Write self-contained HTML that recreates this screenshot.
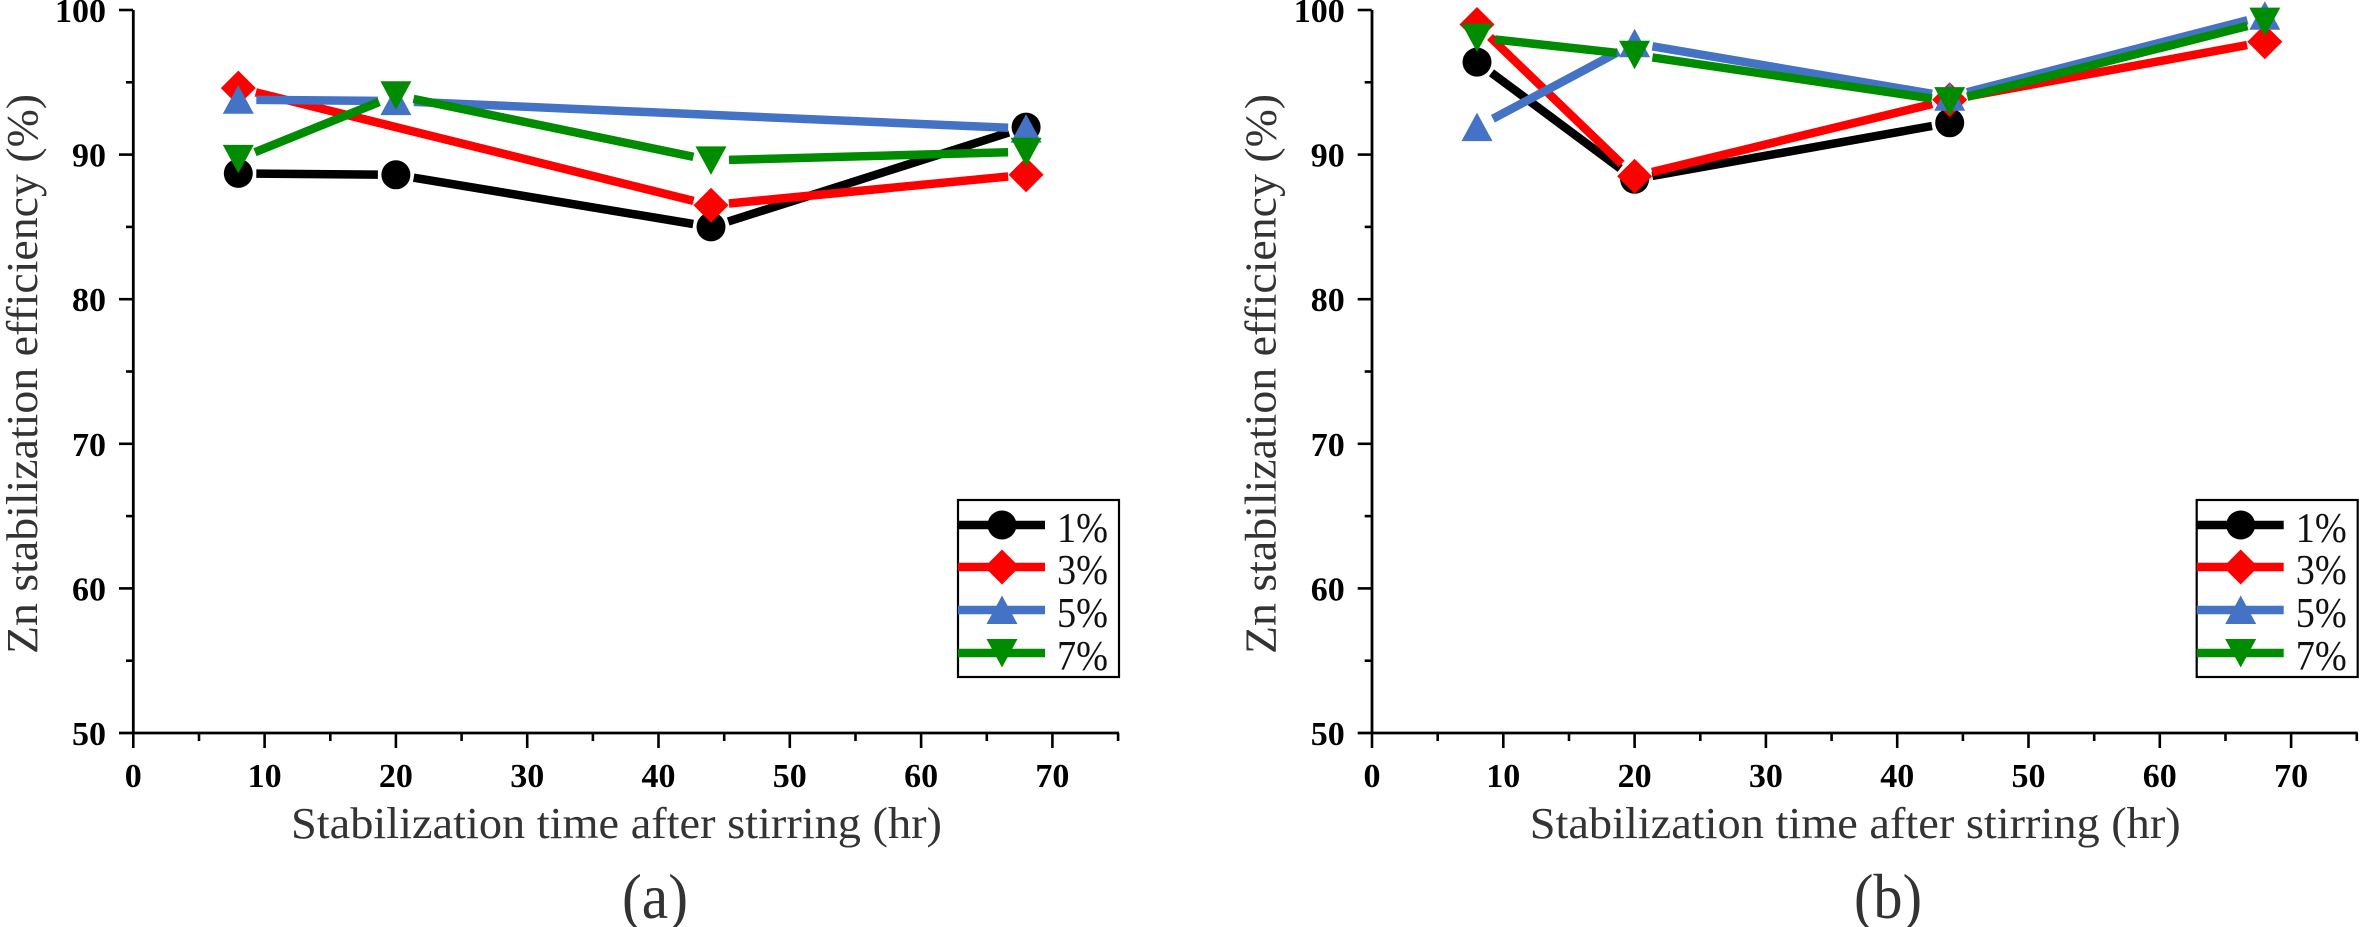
<!DOCTYPE html>
<html><head><meta charset="utf-8"><style>
html,body{margin:0;padding:0;background:#fff;}
svg{display:block;}
.tk{font-family:"Liberation Serif",serif;font-weight:bold;font-size:34px;fill:#000;}
.ttl{font-family:"Liberation Serif",serif;font-size:44px;fill:#333;}
.lg{font-family:"Liberation Serif",serif;font-size:42px;fill:#111;}
</style></head><body>
<svg width="2362" height="927" viewBox="0 0 2362 927" xmlns="http://www.w3.org/2000/svg">
<defs>
<circle id="c" cx="0" cy="0" r="14.5" fill="#000"/>
<polygon id="d" points="0,-17.5 17.5,0 0,17.5 -17.5,0" fill="#ff0000"/>
<polygon id="u" points="0,-14.5 15.5,14 -15.5,14" fill="#4472c4"/>
<polygon id="v" points="-15.5,-14 15.5,-14 0,14.5" fill="#008c00"/>
<g id="axes">
<line x1="133.3" y1="10" x2="133.3" y2="734" stroke="#000" stroke-width="2.8"/>
<line x1="119" y1="733" x2="1119" y2="733" stroke="#000" stroke-width="2.8"/>
<g stroke="#000" stroke-width="2.6">
<line x1="119" y1="10" x2="133" y2="10"/>
<line x1="119" y1="154.6" x2="133" y2="154.6"/>
<line x1="119" y1="299.2" x2="133" y2="299.2"/>
<line x1="119" y1="443.8" x2="133" y2="443.8"/>
<line x1="119" y1="588.4" x2="133" y2="588.4"/>
<line x1="126" y1="82.3" x2="133" y2="82.3"/>
<line x1="126" y1="226.9" x2="133" y2="226.9"/>
<line x1="126" y1="371.5" x2="133" y2="371.5"/>
<line x1="126" y1="516.1" x2="133" y2="516.1"/>
<line x1="126" y1="660.7" x2="133" y2="660.7"/>
<line x1="133.3" y1="733" x2="133.3" y2="748"/>
<line x1="264.6" y1="733" x2="264.6" y2="748"/>
<line x1="395.9" y1="733" x2="395.9" y2="748"/>
<line x1="527.2" y1="733" x2="527.2" y2="748"/>
<line x1="658.5" y1="733" x2="658.5" y2="748"/>
<line x1="789.8" y1="733" x2="789.8" y2="748"/>
<line x1="921.1" y1="733" x2="921.1" y2="748"/>
<line x1="1052.4" y1="733" x2="1052.4" y2="748"/>
<line x1="199" y1="733" x2="199" y2="741"/>
<line x1="330.3" y1="733" x2="330.3" y2="741"/>
<line x1="461.6" y1="733" x2="461.6" y2="741"/>
<line x1="592.9" y1="733" x2="592.9" y2="741"/>
<line x1="724.2" y1="733" x2="724.2" y2="741"/>
<line x1="855.5" y1="733" x2="855.5" y2="741"/>
<line x1="986.8" y1="733" x2="986.8" y2="741"/>
<line x1="1118.1" y1="733" x2="1118.1" y2="741"/>
</g>
<g class="tk" text-anchor="end">
<text x="106" y="22">100</text>
<text x="106" y="166.6">90</text>
<text x="106" y="311.2">80</text>
<text x="106" y="455.8">70</text>
<text x="106" y="600.4">60</text>
<text x="106" y="745">50</text>
</g>
<g class="tk" text-anchor="middle">
<text x="133.3" y="787">0</text>
<text x="264.6" y="787">10</text>
<text x="395.9" y="787">20</text>
<text x="527.2" y="787">30</text>
<text x="658.5" y="787">40</text>
<text x="789.8" y="787">50</text>
<text x="921.1" y="787">60</text>
<text x="1052.4" y="787">70</text>
</g>
<text class="ttl" transform="translate(37,374) rotate(-90)" text-anchor="middle" textLength="560" lengthAdjust="spacingAndGlyphs">Zn stabilization efficiency (%)</text>
<text class="ttl" x="291" y="838" textLength="651" lengthAdjust="spacingAndGlyphs">Stabilization time after stirring (hr)</text>
<rect x="958" y="500" width="161" height="177" fill="none" stroke="#000" stroke-width="2.2"/>
<line x1="958" y1="525" x2="1045" y2="525" stroke="#000" stroke-width="8.5"/>
<use href="#c" x="1002" y="525"/>
<line x1="958" y1="567" x2="1045" y2="567" stroke="#ff0000" stroke-width="8.5"/>
<use href="#d" x="1002" y="567"/>
<line x1="958" y1="610" x2="1045" y2="610" stroke="#4472c4" stroke-width="8.5"/>
<use href="#u" x="1002" y="610"/>
<line x1="958" y1="653" x2="1045" y2="653" stroke="#008c00" stroke-width="8.5"/>
<use href="#v" x="1002" y="653"/>
<g class="lg">
<text x="1057" y="542" textLength="51" lengthAdjust="spacingAndGlyphs">1%</text>
<text x="1057" y="584" textLength="51" lengthAdjust="spacingAndGlyphs">3%</text>
<text x="1057" y="627" textLength="51" lengthAdjust="spacingAndGlyphs">5%</text>
<text x="1057" y="670" textLength="51" lengthAdjust="spacingAndGlyphs">7%</text>
</g>
</g>
</defs>

<!-- Panel (a) -->
<use href="#axes" x="0" y="0"/>
<g fill="none" stroke-width="8.5" stroke-linecap="butt">
<g stroke="#000">
<line x1="256.3" y1="173.6" x2="377.9" y2="174.6"/>
<line x1="413.7" y1="177.7" x2="693.2" y2="224.0"/>
<line x1="728.2" y1="221.5" x2="1008.9" y2="132.5"/>
</g>
</g>
<use href="#c" x="238.3" y="173.4"/>
<use href="#c" x="395.9" y="174.8"/>
<use href="#c" x="711.0" y="226.9"/>
<use href="#c" x="1026.1" y="127.1"/>
<g fill="none" stroke-width="8.5" stroke="#ff0000">
<line x1="255.8" y1="92.4" x2="693.5" y2="200.9"/>
<line x1="728.9" y1="203.5" x2="1008.2" y2="176.5"/>
</g>
<use href="#d" x="238.3" y="88.1"/>
<use href="#d" x="711.0" y="205.2"/>
<use href="#d" x="1026.1" y="174.8"/>
<g fill="none" stroke-width="8.5" stroke="#4472c4">
<line x1="256.3" y1="99.9" x2="377.9" y2="100.9"/>
<line x1="413.9" y1="101.9" x2="1008.1" y2="127.8"/>
</g>
<use href="#u" x="238.3" y="99.7"/>
<use href="#u" x="395.9" y="101.1"/>
<use href="#u" x="1026.1" y="128.6"/>
<g fill="none" stroke-width="8.5" stroke="#008c00">
<line x1="255.0" y1="152.2" x2="379.2" y2="102.0"/>
<line x1="413.5" y1="98.9" x2="693.4" y2="156.8"/>
<line x1="729.0" y1="159.9" x2="1008.1" y2="152.2"/>
</g>
<use href="#v" x="238.3" y="158.9"/>
<use href="#v" x="395.9" y="95.3"/>
<use href="#v" x="711.0" y="160.4"/>
<use href="#v" x="1026.1" y="151.7"/>
<text x="655" y="918" text-anchor="middle" textLength="66" lengthAdjust="spacingAndGlyphs" style="font-family:'Liberation Serif',serif;font-size:64px;fill:#333;">(a)</text>

<!-- Panel (b) -->
<use href="#axes" x="1238.7" y="0"/>
<g transform="translate(1,0)">
<g fill="none" stroke-width="8.5" stroke="#000">
<line x1="1490.5" y1="72.8" x2="1619.2" y2="168.5"/>
<line x1="1651.3" y1="176.0" x2="1931.0" y2="126.0"/>
</g>
<use href="#c" x="1476.0" y="62.1"/>
<use href="#c" x="1633.6" y="179.2"/>
<use href="#c" x="1948.7" y="122.8"/>
<g fill="none" stroke-width="8.5" stroke="#ff0000">
<line x1="1489.0" y1="37.0" x2="1620.6" y2="163.8"/>
<line x1="1651.1" y1="172.0" x2="1931.2" y2="104.0"/>
<line x1="1966.4" y1="96.4" x2="2246.1" y2="45.1"/>
</g>
<use href="#d" x="1476.0" y="24.5"/>
<use href="#d" x="1633.6" y="176.3"/>
<use href="#d" x="1948.7" y="99.7"/>
<use href="#d" x="2263.8" y="41.8"/>
<g fill="none" stroke-width="8.5" stroke="#4472c4">
<line x1="1491.9" y1="118.7" x2="1617.7" y2="51.8"/>
<line x1="1651.4" y1="46.3" x2="1931.0" y2="93.8"/>
<line x1="1966.1" y1="92.3" x2="2246.4" y2="20.3"/>
</g>
<use href="#u" x="1476.0" y="127.1"/>
<use href="#u" x="1633.6" y="43.3"/>
<use href="#u" x="1948.7" y="96.8"/>
<use href="#u" x="2263.8" y="15.8"/>
<g fill="none" stroke-width="8.5" stroke="#008c00">
<line x1="1493.9" y1="39.5" x2="1615.7" y2="52.8"/>
<line x1="1651.4" y1="57.4" x2="1930.9" y2="98.5"/>
<line x1="1966.2" y1="96.7" x2="2246.4" y2="26.0"/>
</g>
<use href="#v" x="1476.0" y="37.5"/>
<use href="#v" x="1633.6" y="54.8"/>
<use href="#v" x="1948.7" y="101.1"/>
<use href="#v" x="2263.8" y="21.6"/>
</g>
<text x="1888" y="918" text-anchor="middle" textLength="68" lengthAdjust="spacingAndGlyphs" style="font-family:'Liberation Serif',serif;font-size:64px;fill:#333;">(b)</text>
</svg>
</body></html>
